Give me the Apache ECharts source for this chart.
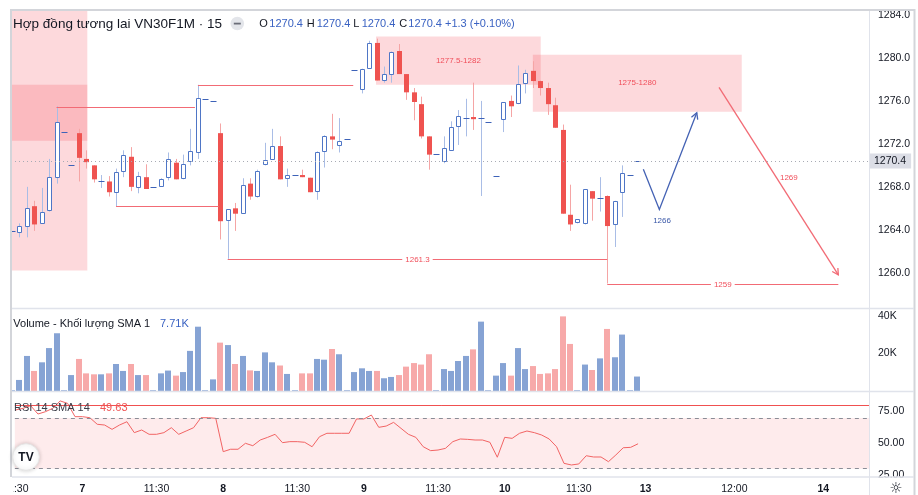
<!DOCTYPE html>
<html>
<head>
<meta charset="utf-8">
<script src="https://cdn.jsdelivr.net/npm/echarts/dist/echarts.min.js"></script>
<style>
html,body{margin:0;padding:0;background:#fff;}
#c{width:918px;height:495px;}
</style>
</head>
<body>
<div id="c"></div>
<script>
// ---------------- data ----------------
const timeTickIdx  = [0, 9, 19, 28, 38, 47, 57, 66, 76, 85, 97, 109];
const timeTickText = ['11:30','7','11:30','8','11:30','9','11:30','10','11:30','13','12:00','14'];
const dayTicks = ['7','8','9','10','13','14'];

const opens = [1263.9,1263.7,1264.2,1266.2,1264.6,1265.7,1268.8,1273.1,1270.0,1273.0,
 1270.6,1270.0,1268.5,1268.5,1267.4,1269.4,1270.8,1267.9,1268.9,1268.0,
 1268.0,1268.8,1270.25,1268.7,1270.3,1271.2,1276.2,1276.0,1273.0,1264.75,
 1266.0,1265.5,1268.3,1267.1,1270.0,1270.5,1271.8,1268.7,1269.1,1269.1,
 1268.85,1267.5,1271.2,1272.7,1271.8,1272.5,1278.9,1277.0,1279.0,1281.4,
 1277.85,1278.5,1280.65,1278.5,1276.8,1275.7,1272.7,1271.1,1270.3,1271.4,
 1273.55,1274.4,1274.5,1274.4,1274.0,1269.0,1274.2,1276.0,1275.7,1277.6,
 1278.8,1277.85,1277.2,1275.6,1273.3,1265.4,1264.6,1264.5,1267.6,1266.9,
 1267.15,1264.5,1267.4,1269.1,1270.4];
const closes = [1263.9,1264.35,1266.0,1264.5,1265.7,1268.9,1274.0,1273.1,1270.0,1270.7,
 1270.3,1268.7,1268.6,1267.5,1269.4,1271.0,1268.0,1269.0,1267.8,1268.0,
 1268.7,1270.6,1268.7,1270.1,1271.3,1276.3,1276.2,1276.0,1264.8,1265.9,
 1265.5,1268.2,1267.1,1269.5,1270.5,1271.8,1268.7,1269.1,1269.1,1268.9,
 1267.5,1271.2,1272.7,1272.4,1272.3,1272.5,1278.9,1279.0,1281.4,1277.9,
 1278.5,1280.6,1278.5,1276.8,1275.9,1272.7,1271.0,1271.1,1271.6,1273.6,
 1274.6,1274.45,1274.3,1274.5,1274.0,1269.0,1275.9,1275.5,1277.6,1278.6,
 1277.85,1277.2,1275.7,1273.5,1265.5,1264.5,1265.0,1267.8,1266.9,1267.0,
 1264.35,1266.7,1269.3,1269.1,1270.4];
const lows = [1263.9,1263.3,1263.3,1263.9,1264.6,1265.7,1268.3,1273.1,1270.0,1268.5,
 1269.7,1268.4,1267.9,1267.1,1266.2,1268.9,1267.6,1267.4,1267.8,1268.0,
 1268.0,1268.6,1268.7,1268.7,1270.0,1270.6,1276.2,1276.0,1263.1,1261.3,
 1263.9,1265.5,1266.8,1267.0,1270.0,1270.5,1268.7,1268.0,1269.1,1268.9,
 1267.5,1266.8,1269.8,1271.5,1271.2,1272.5,1278.9,1276.7,1279.0,1277.9,
 1277.7,1277.7,1278.5,1276.1,1274.2,1272.5,1269.6,1271.1,1270.2,1271.4,
 1271.9,1272.7,1273.3,1267.15,1274.0,1269.0,1273.1,1274.5,1275.7,1276.7,
 1277.2,1276.5,1274.7,1273.5,1265.5,1263.9,1264.6,1264.5,1264.85,1265.7,
 1259.0,1262.4,1265.2,1269.1,1270.4];
const highs = [1263.9,1264.6,1268.0,1266.7,1267.9,1270.6,1275.5,1273.1,1270.0,1273.4,
 1271.4,1270.0,1269.1,1269.0,1269.7,1271.4,1271.7,1269.4,1270.1,1268.0,
 1268.8,1271.2,1270.6,1271.0,1273.4,1277.5,1276.2,1276.0,1273.9,1265.9,
 1266.5,1268.8,1268.8,1269.6,1272.1,1273.4,1272.7,1269.7,1269.1,1269.6,
 1268.85,1271.3,1272.8,1274.8,1274.4,1272.5,1278.9,1279.0,1281.6,1281.8,
 1279.2,1280.6,1281.3,1278.5,1277.2,1276.4,1272.7,1271.1,1272.7,1274.1,
 1275.15,1276.2,1277.7,1276.0,1274.0,1269.0,1275.9,1276.5,1279.3,1278.9,
 1279.7,1277.9,1277.7,1276.3,1273.8,1268.2,1265.0,1267.8,1267.6,1268.9,
 1267.2,1266.7,1270.0,1269.1,1270.4];
const volumesK = [0.4,5.9,18.7,10.7,15.3,22.9,30.8,0.4,8.5,17.1,
 9.4,8.9,8.9,9.4,14.4,10.7,14.4,8.5,8.5,0.4,
 9.4,10.9,8.2,10.1,21.4,34.3,0.4,6.2,25.8,24.5,
 14.4,18.7,11.0,10.7,20.6,15.3,13.6,9.1,0.4,9.4,
 9.4,17.1,16.7,22.4,19.6,0.4,10.1,12.1,10.7,10.7,
 6.8,7.5,8.5,13.0,14.9,14.1,19.6,0.4,11.7,10.7,
 16.0,18.7,22.2,37.0,0.4,8.2,14.9,8.2,22.9,11.7,
 13.3,9.1,9.4,11.7,39.8,25.1,0.4,14.1,11.2,17.4,
 33.1,18.0,30.1,0.4,7.71];
const rsiValues = [76.3,77.6,79.7,73.1,74.9,77.6,83.4,81.5,71.0,71.0,
 70.2,65.0,64.4,61.0,64.4,67.0,58.4,60.5,57.1,57.1,
 58.4,62.3,57.1,59.7,62.3,70.2,70.2,69.7,43.4,45.3,
 45.3,50.0,48.1,52.6,54.7,57.1,50.5,51.3,51.3,50.8,
 47.3,55.2,57.9,57.9,57.9,57.9,69.2,69.2,72.3,62.6,
 63.6,66.5,61.8,57.1,54.7,47.3,44.2,44.7,46.0,51.3,
 53.4,53.1,52.6,52.6,50.8,39.0,54.7,53.9,57.9,59.7,
 58.4,56.5,53.4,47.3,34.2,32.9,33.7,40.2,39.2,39.2,
 35.5,40.8,46.5,46.8,49.63];

const priceTicks = [1260,1264,1268,1272,1276,1280,1284];
const volumeTicks = [20,40];
const rsiTicks = [25,50,75];
const lastPrice = 1270.4;
const rsiUpper = 80, rsiBandHigh = 70, rsiBandLow = 30;

// drawings, in (bar index, price)
const zoneX1 = [-1, -1, 48.93, 70.0];
const zoneX2 = [10.14, 10.14, 71.06, 98.07];
const zoneLow = [1260.2, 1272.3, 1277.5, 1275.0];
const zoneHigh = [1290, 1277.5, 1282.0, 1280.3];
const zoneLabels = ['', '', '1277.5-1282', '1275-1280'];

const levelX1 = [6, 25, 14, 29, 80];
const levelX2 = [24.6, 45.87, 27.8, 80, 111.05];
const levelPrice = [1275.46, 1277.48, 1266.2, 1261.3, 1259.0];
const levelLabels = ['', '', '', '1261.3', '1259'];

const bluePathX = [84.85, 87.0, 92.03];
const bluePathP = [1269.63, 1265.9, 1274.9];
const redPathX = [95.02, 111.05];
const redPathP = [1277.27, 1259.8];
const pathLabels = ['1266', '1269'];
const pathLabelX = [87.36, 104.4];
const pathLabelP = [1264.8, 1268.8];

// ---------------- chart ----------------
const FONT = '"Liberation Sans", Arial, sans-serif';
const C = {
  up:'#4f76c6', upWick:'#a9bde6', upDash:'#3d62b8',
  down:'#ef5350', downWick:'#f5a5a5',
  volUp:'#86a3d4', volDown:'#f7a9a9',
  red:'#f26b75', redText:'#f04e5a', blue:'#4462b4', text:'#131722', valBlue:'#3a62c2'
};
const X_MIN = -0.116, X_MAX = 115.17;
const GL = 11, GR = 49;

const candleData = opens.map((o,i)=>[i,o,closes[i],lows[i],highs[i]]);
const volData = volumesK.map((v,i)=>[i,v,closes[i]>=opens[i]?1:0]);
const rsiData = rsiValues.map((v,i)=>[i,v]);

function renderCandle(params, api){
  const i = api.value(0), o = api.value(1), c = api.value(2), l = api.value(3), h = api.value(4);
  const pO = api.coord([i,o]), pC = api.coord([i,c]), pL = api.coord([i,l]), pH = api.coord([i,h]);
  const r = Math.round(pO[0]);
  const up = c >= o;
  const ch = [];
  if (Math.abs(pH[1]-pL[1]) >= 1) {
    ch.push({type:'line', shape:{x1:r+0.5,y1:pH[1],x2:r+0.5,y2:pL[1]}, style:{stroke: up?C.upWick:C.downWick, lineWidth:1}});
  }
  const top = Math.min(pO[1],pC[1]), bot = Math.max(pO[1],pC[1]);
  if (bot - top < 1.5) {
    const y = Math.round((top+bot)/2)+0.5;
    ch.push({type:'line', shape:{x1:r-2.5,y1:y,x2:r+3.5,y2:y}, style:{stroke: up?C.upDash:C.down, lineWidth:1}});
  } else if (up) {
    ch.push({type:'rect', shape:{x:r-1.5, y:Math.round(top)+0.5, width:4, height:Math.max(1,Math.round(bot-top)-1)}, style:{fill:'#fff', stroke:C.up, lineWidth:1}});
  } else {
    ch.push({type:'rect', shape:{x:r-2, y:top, width:5, height:bot-top}, style:{fill:C.down}});
  }
  return {type:'group', children:ch};
}

function renderVol(params, api){
  const i = api.value(0), v = api.value(1), up = api.value(2);
  const p0 = api.coord([i,0]), p1 = api.coord([i,v]);
  const r = Math.round(p0[0]);
  return {type:'rect', shape:{x:r-3, y:p1[1], width:6, height:Math.max(0.8,p0[1]-p1[1])}, style:{fill: up? C.volUp : C.volDown}};
}

function renderZone(params, api){
  const k = params.dataIndex;
  const a = api.coord([zoneX1[k], zoneHigh[k]]), b = api.coord([zoneX2[k], zoneLow[k]]);
  const ch = [{type:'rect', shape:{x:a[0], y:a[1], width:b[0]-a[0], height:b[1]-a[1]}, style:{fill:'rgba(242,54,69,0.19)'}}];
  if (zoneLabels[k]) {
    const m = api.coord([(zoneX1[k]+zoneX2[k])/2, (zoneHigh[k]+zoneLow[k])/2]);
    ch.push({type:'text', x:m[0], y:m[1], style:{text:zoneLabels[k], fill:C.redText, font:'8px '+FONT, align:'center', verticalAlign:'middle'}});
  }
  return {type:'group', children:ch};
}

function renderLevel(params, api){
  const k = params.dataIndex;
  const a = api.coord([levelX1[k], levelPrice[k]]), b = api.coord([levelX2[k], levelPrice[k]]);
  const y = Math.round(a[1]) + 0.5;
  const ch = [{type:'line', shape:{x1:a[0], y1:y, x2:b[0], y2:y}, style:{stroke:C.red, lineWidth:1}}];
  if (levelLabels[k]) {
    ch.push({type:'text', x:(a[0]+b[0])/2, y:y, style:{text:levelLabels[k], fill:C.redText, font:'8px '+FONT, align:'center', verticalAlign:'middle', backgroundColor:'#fff', padding:[1,3]}});
  }
  return {type:'group', children:ch};
}

function renderPath(params, api){
  const k = params.dataIndex;
  const xs = k===0 ? bluePathX : redPathX, ps = k===0 ? bluePathP : redPathP;
  const color = k===0 ? C.blue : C.red;
  const pts = xs.map((x,j)=>api.coord([x, ps[j]]));
  const n = pts.length, tip = pts[n-1], prev = pts[n-2];
  const ang = Math.atan2(tip[1]-prev[1], tip[0]-prev[0]);
  const L = 7, a = 0.5;
  const h1 = [tip[0]-L*Math.cos(ang-a), tip[1]-L*Math.sin(ang-a)];
  const h2 = [tip[0]-L*Math.cos(ang+a), tip[1]-L*Math.sin(ang+a)];
  const lab = api.coord([pathLabelX[k], pathLabelP[k]]);
  return {type:'group', children:[
    {type:'polyline', shape:{points:pts}, style:{stroke:color, lineWidth:1.3, fill:'none'}},
    {type:'polyline', shape:{points:[h1, tip, h2]}, style:{stroke:color, lineWidth:1.3, fill:'none'}},
    {type:'text', x:lab[0], y:lab[1], style:{text:pathLabels[k], fill:k===0?'#3a58a8':C.redText, font:'8px '+FONT, align:'center', verticalAlign:'middle'}}
  ]};
}

const axisLabelBase = {color:C.text, fontSize:10.5, fontFamily:FONT};

function xAxisFor(k){
  const ax = {type:'value', gridIndex:k, min:X_MIN, max:X_MAX,
    axisLine:{show:false}, axisTick:{show:false}, splitLine:{show:false}, axisLabel:{show:false}};
  if (k === 2) {
    ax.axisLabel = Object.assign({}, axisLabelBase, {
      show:true, margin:7, customValues: timeTickIdx,
      formatter: v => { const t = timeTickText[timeTickIdx.indexOf(v)]; return dayTicks.includes(t) ? '{d|'+t+'}' : t; },
      rich:{d:{fontWeight:'bold', fontSize:10.5, fontFamily:FONT, color:C.text}}
    });
  }
  return ax;
}

const option = {
  animation:false,
  backgroundColor:'#fff',
  grid:[
    {left:GL, right:GR, top:10, height:298},
    {left:GL, right:GR, top:308, height:83},
    {left:GL, right:GR, top:391, height:86}
  ],
  xAxis:[xAxisFor(0), xAxisFor(1), xAxisFor(2)],
  yAxis:[
    {type:'value', gridIndex:0, position:'right', min:1256.72, max:1284.466,
     axisLine:{show:false}, axisTick:{show:false}, splitLine:{show:false},
     axisLabel:Object.assign({}, axisLabelBase, {margin:9, customValues:priceTicks, formatter:v=>v.toFixed(1)})},
    {type:'value', gridIndex:1, position:'right', min:0, max:44.27,
     axisLine:{show:false}, axisTick:{show:false}, splitLine:{show:false},
     axisLabel:Object.assign({}, axisLabelBase, {margin:9, customValues:volumeTicks, formatter:v=>v+'K'})},
    {type:'value', gridIndex:2, position:'right', min:23.42, max:91.25,
     axisLine:{show:false}, axisTick:{show:false}, splitLine:{show:false},
     axisLabel:Object.assign({}, axisLabelBase, {margin:9, customValues:rsiTicks, formatter:v=>v.toFixed(2)})}
  ],
  series:[
    {type:'custom', name:'zones', xAxisIndex:0, yAxisIndex:0, z:1, clip:true, silent:true,
     renderItem:renderZone, data: zoneX1.map((x,k)=>[x, zoneLow[k]])},
    {type:'line', name:'last', xAxisIndex:0, yAxisIndex:0, z:2, silent:true, symbol:'none',
     lineStyle:{opacity:0}, data:[[0,lastPrice]],
     markLine:{silent:true, symbol:'none', animation:false,
       lineStyle:{type:[1,3], color:'#a8abb4', width:1},
       label:{show:true, position:'end', distance:1, formatter:lastPrice.toFixed(1), color:C.text,
              fontSize:10.5, fontFamily:FONT, backgroundColor:'#dcdee6', padding:[2,5,2,4], lineHeight:11},
       data:[{yAxis:lastPrice}]}},
    {type:'custom', name:'candles', xAxisIndex:0, yAxisIndex:0, z:3, clip:true, silent:true,
     renderItem:renderCandle, encode:{x:0, y:[1,2,3,4]}, data:candleData},
    {type:'custom', name:'levels', xAxisIndex:0, yAxisIndex:0, z:4, clip:true, silent:true,
     renderItem:renderLevel, data: levelX1.map((x,k)=>[x, levelPrice[k]])},
    {type:'custom', name:'paths', xAxisIndex:0, yAxisIndex:0, z:4, clip:true, silent:true,
     renderItem:renderPath, data:[[bluePathX[0], bluePathP[0]],[redPathX[0], redPathP[0]]]},
    {type:'custom', name:'volume', xAxisIndex:1, yAxisIndex:1, z:3, clip:true, silent:true,
     renderItem:renderVol, encode:{x:0, y:1}, data:volData},
    {type:'line', name:'rsi', xAxisIndex:2, yAxisIndex:2, z:3, silent:true, showSymbol:false,
     lineStyle:{color:'#f26464', width:1}, data:rsiData,
     markArea:{silent:true, itemStyle:{color:'rgba(242,54,69,0.1)'}, data:[[{yAxis:rsiBandLow},{yAxis:rsiBandHigh}]]},
     markLine:{silent:true, symbol:'none', label:{show:false}, animation:false,
       data:[
         {yAxis:rsiUpper, lineStyle:{color:'#f05050', type:'solid', width:1}},
         {yAxis:rsiBandHigh, lineStyle:{color:'#8a8d96', type:[4,4], width:1}},
         {yAxis:rsiBandLow, lineStyle:{color:'#8a8d96', type:[4,4], width:1}}
       ]}}
  ],
  graphic:[
    // masks
    {type:'rect', z:100, shape:{x:0,y:0,width:11.2,height:495}, style:{fill:'#fff'}},
    {type:'rect', z:100, shape:{x:0,y:478,width:13.2,height:17}, style:{fill:'#fff'}},
    {type:'rect', z:100, shape:{x:871,y:477.5,width:42,height:8}, style:{fill:'#fff'}},
    // frame & separators
    {type:'line', z:101, shape:{x1:11,y1:10,x2:915,y2:10}, style:{stroke:'#d3d5da', lineWidth:2}},
    {type:'line', z:101, shape:{x1:11,y1:9,x2:11,y2:477}, style:{stroke:'#d3d5da', lineWidth:2}},
    {type:'line', z:101, shape:{x1:914.5,y1:9,x2:914.5,y2:495}, style:{stroke:'#d3d5da', lineWidth:2}},
    {type:'line', z:101, shape:{x1:12,y1:308.5,x2:914,y2:308.5}, style:{stroke:'#e0e3eb', lineWidth:1.5}},
    {type:'line', z:101, shape:{x1:12,y1:391.5,x2:914,y2:391.5}, style:{stroke:'#e0e3eb', lineWidth:1.5}},
    {type:'line', z:101, shape:{x1:12,y1:477,x2:914,y2:477}, style:{stroke:'#e0e3eb', lineWidth:1.5}},
    {type:'line', z:101, shape:{x1:869.5,y1:11,x2:869.5,y2:495}, style:{stroke:'#e0e3eb', lineWidth:1}},
    // header
    {type:'text', z:102, x:13, y:24, style:{text:'Hợp đồng tương lai VN30F1M · 15', fill:C.text, font:'13.5px '+FONT, verticalAlign:'middle'}},
    {type:'circle', z:102, shape:{cx:237.3, cy:23.5, r:6.8}, style:{fill:'#e3e5ea'}},
    {type:'rect', z:103, shape:{x:233.8, y:22.7, width:7, height:1.8}, style:{fill:'#6a6d78'}},
    {type:'text', z:102, x:259.3, y:24, style:{text:'O', fill:C.text, font:'11px '+FONT, verticalAlign:'middle'}},
    {type:'text', z:102, x:269.3, y:24, style:{text:'1270.4', fill:C.valBlue, font:'11px '+FONT, verticalAlign:'middle'}},
    {type:'text', z:102, x:306.7, y:24, style:{text:'H', fill:C.text, font:'11px '+FONT, verticalAlign:'middle'}},
    {type:'text', z:102, x:316.7, y:24, style:{text:'1270.4', fill:C.valBlue, font:'11px '+FONT, verticalAlign:'middle'}},
    {type:'text', z:102, x:353.3, y:24, style:{text:'L', fill:C.text, font:'11px '+FONT, verticalAlign:'middle'}},
    {type:'text', z:102, x:361.7, y:24, style:{text:'1270.4', fill:C.valBlue, font:'11px '+FONT, verticalAlign:'middle'}},
    {type:'text', z:102, x:399.3, y:24, style:{text:'C', fill:C.text, font:'11px '+FONT, verticalAlign:'middle'}},
    {type:'text', z:102, x:408.3, y:24, style:{text:'1270.4', fill:C.valBlue, font:'11px '+FONT, verticalAlign:'middle'}},
    {type:'text', z:102, x:445, y:24, style:{text:'+1.3 (+0.10%)', fill:C.valBlue, font:'11px '+FONT, verticalAlign:'middle'}},
    // volume header
    {type:'text', z:102, x:13.3, y:324, style:{text:'Volume - Khối lượng SMA 1', fill:C.text, font:'11px '+FONT, verticalAlign:'middle'}},
    {type:'text', z:102, x:160, y:324, style:{text:'7.71K', fill:C.valBlue, font:'11px '+FONT, verticalAlign:'middle'}},
    // rsi header
    {type:'text', z:102, x:14, y:407.7, style:{text:'RSI 14 SMA 14', fill:'#3a3d48', font:'11px '+FONT, verticalAlign:'middle'}},
    {type:'text', z:102, x:100, y:407.7, style:{text:'49.63', fill:'#f05454', font:'11px '+FONT, verticalAlign:'middle'}},
    // logo
    {type:'circle', z:102, shape:{cx:26, cy:457, r:13.3}, style:{fill:'#fff', stroke:'#e6e6e6', lineWidth:1, shadowBlur:4, shadowColor:'rgba(0,0,0,0.18)'}},
    {type:'text', z:103, x:26, y:457.5, style:{text:'TV', fill:'#131722', font:'bold 12px '+FONT, align:'center', verticalAlign:'middle'}},
    // gear
    {type:'text', z:102, x:896, y:489, style:{text:'☼', fill:C.text, font:'15px "DejaVu Sans"', align:'center', verticalAlign:'middle'}}
  ]
};

const chart = echarts.init(document.getElementById('c'), null, {renderer:'canvas'});
chart.setOption(option);
</script>
</body>
</html>
